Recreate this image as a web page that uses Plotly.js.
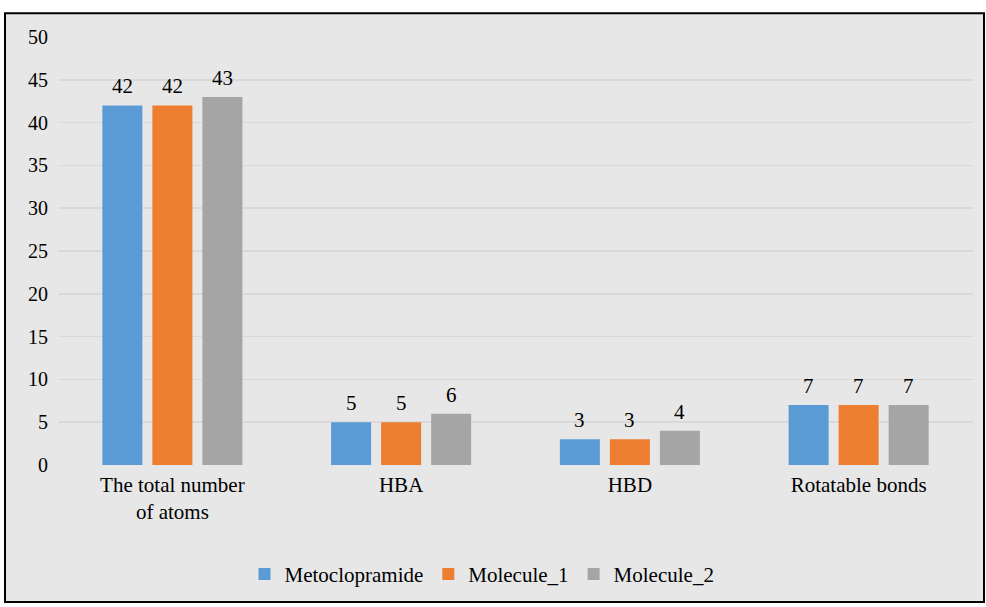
<!DOCTYPE html>
<html>
<head>
<meta charset="utf-8">
<script src="https://cdn.plot.ly/plotly-3.0.1.min.js"></script>
<style>html,body{margin:0;padding:0;background:#fff;}#chart{width:986px;height:607px;}</style>
</head>
<body>
<div id="chart"></div>
<script>
const categories = ["The total number<br>of atoms", "HBA", "HBD", "Rotatable bonds"];
const seriesNames = ["Metoclopramide", "Molecule_1", "Molecule_2"];
const metoclopramide = [42, 5, 3, 7];
const molecule1 = [42, 5, 3, 7];
const molecule2 = [43, 6, 4, 7];
const colors = ["#5b9bd5", "#ed7d31", "#a5a5a5"];
const yTicks = [0, 5, 10, 15, 20, 25, 30, 35, 40, 45, 50];

const seriesValues = [metoclopramide, molecule1, molecule2];
const font = "'Liberation Serif', 'Times New Roman', serif";
const FS = 21;
const traces = seriesValues.map((vals, i) => ({
  type: "bar",
  name: seriesNames[i],
  x: categories,
  y: vals,
  marker: {color: colors[i], line: {width: 0}},
  hoverinfo: "none"
}));

// data labels as annotations tied to the data values
const offsets = [-50, 0, 50];
const annotations = [];
seriesValues.forEach((vals, i) => {
  vals.forEach((v, j) => {
    annotations.push({
      x: categories[j], y: v, xref: "x", yref: "y",
      text: String(v), showarrow: false,
      xshift: offsets[i], yanchor: "bottom", yshift: 5,
      font: {family: font, size: FS, color: "#000"}
    });
  });
});

const L = 58, R = 13, T = 37, B = 139, W = 986, H = 607;
const pw = W - L - R, ph = H - T - B;
const layout = {
  width: W, height: H,
  margin: {l: L, r: R, t: T, b: B, pad: 0},
  paper_bgcolor: "#ffffff",
  plot_bgcolor: "rgba(0,0,0,0)",
  barmode: "group",
  bargap: 0.344,
  bargroupgap: 0.2,
  font: {family: font, size: FS, color: "#000"},
  showlegend: true,
  legend: {
    orientation: "h", x: (482 - L) / pw, xanchor: "center",
    y: (H - B - 578) / ph, yanchor: "middle",
    font: {family: font, size: FS, color: "#000"},
    bgcolor: "rgba(0,0,0,0)", itemwidth: 30, traceorder: "normal"
  },
  xaxis: {
    type: "category", showgrid: false, zeroline: false, showline: false,
    ticks: "", ticklabelstandoff: 5,
    tickfont: {family: font, size: FS, color: "#000"}
  },
  yaxis: {
    range: [0, 50], tickvals: yTicks, ticktext: yTicks.map(String),
    showgrid: true, gridcolor: "#d9d9d9", gridwidth: 1.5,
    zeroline: false, showline: false, ticks: "",
    ticklabelstandoff: 9,
    tickfont: {family: font, size: 20, color: "#000"}
  },
  annotations: annotations,
  shapes: [{
    type: "rect", xref: "paper", yref: "paper", layer: "below",
    x0: (5 - L) / pw, x1: (984 - L) / pw,
    y0: (H - B - 606) / ph, y1: (H - B - 13) / ph,
    fillcolor: "#e7e7e7", line: {color: "#000", width: 2}
  }]
};
Plotly.newPlot("chart", traces, layout, {displayModeBar: false, staticPlot: true});
</script>
</body>
</html>
